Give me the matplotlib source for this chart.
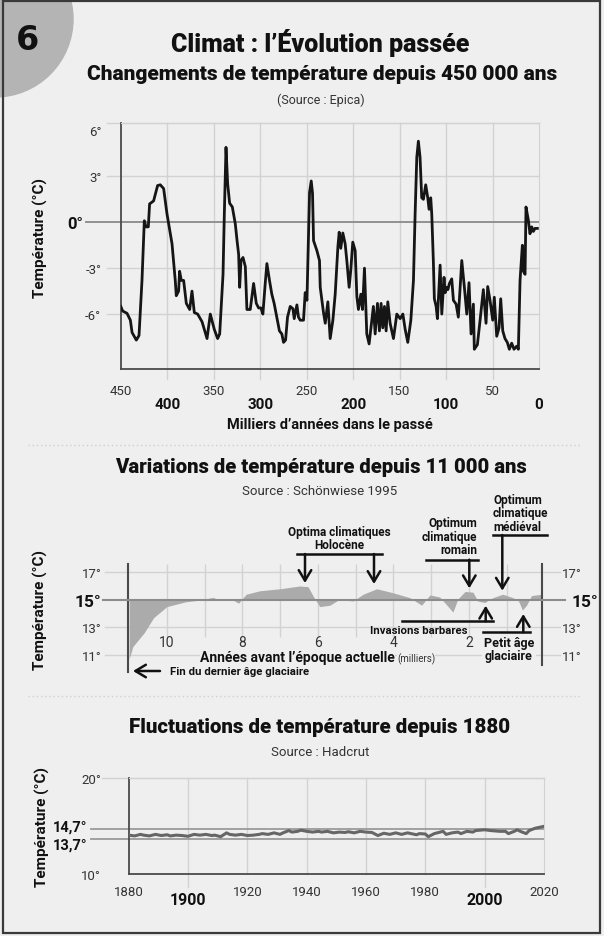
import matplotlib
matplotlib.use("Agg")
import matplotlib.pyplot as plt
from matplotlib import font_manager
from matplotlib.transforms import Affine2D, ScaledTranslation
from matplotlib.patches import Circle, Rectangle, FancyArrowPatch
from matplotlib.lines import Line2D

W, H = 604, 937
BG = '#efefef'
GRID = '#d2d2d2'
DARK = '#4a4a4a'
TXT = '#333333'

names = {f.name for f in font_manager.fontManager.ttflist}
NARROW = 'Liberation Sans Narrow' if 'Liberation Sans Narrow' in names else 'Roboto'
plt.rcParams['font.family'] = [NARROW, 'DejaVu Sans']

# --- EPICA, thousands of years before present / temperature anomaly (°C)
epica_kyr = [450, 448, 443.3, 439.7, 437.9, 433.3, 430.4, 427.2, 424.7, 422.9, 420.4, 419, 414.7,
             410.4, 407.5, 403.9, 400.3, 394.9, 391.4, 390.3, 387.8, 386.7, 384.9, 382.4, 379.5,
             375.9, 373.4, 370.9, 367.3, 362.6, 357.2, 353.7, 349.4, 345.8, 343.6, 340, 338.6,
             336.8, 335, 332.9, 330, 326.8, 324.9, 323.2, 322.1, 320.7, 318.5, 316, 314.3, 310.7,
             307.1, 304.2, 301.7, 299.2, 297.1, 294.6, 292.8, 290, 287.5, 285, 282.1, 279.3,
             276.7, 274.9, 272.7, 270.6, 267.7, 264.8, 263.4, 260.5, 258.8, 256.9, 253.4, 251.6,
             249.7, 246.9, 245.1, 243.7, 242.6, 239, 236.2, 235.4, 231.9, 230, 227.2, 224.7,
             221.8, 219.3, 216.4, 215, 213.3, 211.1, 208.6, 206.8, 204.3, 202.5, 200.4, 197.8,
             196, 194.3, 191.7, 189.9, 187.8, 185.3, 182.8, 179.9, 178.2, 176.3, 173.8, 171.7,
             169.9, 168.1, 166.3, 164.5, 162.7, 160.2, 156.6, 153, 149.4, 146.5, 144, 141.2,
             137.9, 135.1, 133.3, 131.5, 129.8, 128, 126.2, 124.4, 121.9, 119.7, 118.3, 116.5,
             115.4, 113.7, 112.6, 110.7, 109.3, 106.4, 104.6, 102.2, 101.0, 99.3, 98.0, 96.4,
             93.9, 92.1, 89.2, 86.8, 83.1, 80.3, 77.7, 75.3, 73.1, 70.6, 69.6, 66.3, 63.4, 59.9,
             57, 55.2, 52.7, 49.8, 48.1, 45.5, 43, 41.2, 39, 36.6, 34.1, 31.9, 29.4, 26.9, 24,
             22.2, 20.4, 17.9, 16.8, 15.0, 14, 11.5, 9.7, 7.8, 6.1, 4.3, 1.8]
epica_temp = [-5.5, -5.8, -5.95, -6.4, -7.2, -7.7, -7.4, -3.8, 0.1, -0.3, -0.3, 1.2, 1.4,
              2.4, 2.45, 2.2, 0.55, -1.4, -3.8, -4.8, -4.5, -3.2, -3.8, -3.8, -5.3,
              -5.7, -4.5, -5.9, -6.0, -6.5, -7.6, -6.0, -7.0, -7.6, -7.3, -3.4, 0.55,
              4.9, 2.5, 1.25, 1.0, -0.1, -1.2, -2.1, -4.25, -2.5, -2.3, -2.9, -5.7, -5.7,
              -4.0, -5.3, -5.6, -5.6, -6.0, -4.0, -2.7, -3.8, -4.7, -5.3, -6.2, -7.1,
              -7.3, -7.85, -7.7, -6.2, -5.5, -5.65, -6.3, -5.4, -6.2, -6.4, -6.4, -4.6,
              -5.1, 1.95, 2.7, 1.9, -1.2, -1.85, -2.5, -4.25, -5.9, -6.6, -5.2, -7.6,
              -6.4, -4.7, -1.6, -0.65, -1.7, -0.7, -1.4, -2.5, -4.25, -3.1, -1.3, -1.85,
              -4.85, -5.7, -4.7, -5.7, -3.0, -7.3, -7.95, -6.4, -5.5, -7.3, -5.3, -7.1,
              -5.3, -6.9, -5.5, -7.1, -5.2, -6.6, -7.6, -6.0, -6.3, -6.0, -7.0, -7.85,
              -6.4, -3.8, 0.55, 4.25, 5.3, 4.25, 1.6, 1.5, 2.45, 1.6, 0.85, 1.6,
              0.55, -2.5, -5.0, -5.5, -6.3, -2.8, -6.0, -3.6, -4.6, -4.25, -4.4, -4.0,
              -3.7, -5.1, -5.35, -6.2, -2.5, -4.25, -6.0, -3.95, -7.3, -5.35, -8.3, -8.0, -6.4, -4.4,
              -6.6, -4.2, -5.1, -6.4, -4.9, -7.45, -6.9, -5.0, -7.1, -7.6, -7.85, -8.3, -7.9, -8.3, -8.1,
              -8.3, -3.8, -1.5, -3.2, -3.4, 1.0, 0.15, -0.75, -0.3, -0.6, -0.4, -0.4]
epica_major = [400, 300, 200, 100, 0]
epica_minor = [450, 350, 250, 150, 50]
epica_yticks = [6, 3, 0, -3, -6]
epica_ylabels = ['6°', '3°', '0°', '-3°', '-6°']

# --- Holocene (Schönwiese 1995), thousands of years before present / °C
holo_kyr = [11.0, 10.9, 10.6, 10.35, 10.0, 9.5, 9.2, 8.77, 8.6, 8.33, 8.1, 7.9, 7.54, 7.0, 6.48,
            6.26, 6.13, 5.95, 5.68, 5.42, 5.07, 4.8, 4.44, 4.0, 3.56, 3.25, 3.03, 2.77, 2.42,
            2.29, 2.1, 1.89, 1.76, 1.58, 1.36, 1.1, 0.83, 0.68, 0.58, 0.47, 0.34, 0.07]
holo_temp = [10.7, 11.6, 12.6, 13.7, 14.5, 14.85, 14.95, 15.17, 14.93, 15.1, 14.75, 15.4, 15.65,
             15.8, 16.0, 15.95, 15.3, 14.5, 14.6, 15.05, 14.9, 15.4, 15.8, 15.5, 15.15, 14.6,
             15.35, 15.2, 14.1, 15.05, 15.6, 15.55, 14.9, 14.8, 15.15, 15.4, 15.15, 14.9, 14.25,
             14.6, 15.3, 15.4]
holo_ticks = [10, 8, 6, 4, 2]
holo_yticks = [17, 15, 13, 11]

# --- HadCRUT, year / °C
had_year = [1880, 1882, 1884, 1885, 1887, 1889, 1891, 1893, 1894, 1896, 1898, 1900, 1902, 1904,
            1906, 1908, 1909, 1911, 1913, 1914, 1916, 1918, 1920, 1922, 1924, 1925, 1927, 1929,
            1931, 1932, 1934, 1935, 1937, 1938, 1940, 1942, 1944, 1945, 1947, 1949, 1951, 1953,
            1954, 1956, 1958, 1960, 1962, 1964, 1966, 1968, 1970, 1972, 1974, 1977, 1978, 1980,
            1981, 1983, 1985, 1986, 1987, 1989, 1991, 1992, 1994, 1996, 1997, 2000, 2002, 2005,
            2007, 2008, 2010, 2011, 2012, 2014, 2015, 2017, 2020]
had_temp = [14.06, 13.98, 14.14, 14.06, 13.98, 14.14, 14.02, 14.10, 13.98, 14.06, 14.02, 13.94,
            14.14, 14.06, 14.14, 14.02, 14.06, 13.90, 14.30, 14.14, 14.06, 14.14, 14.02, 14.06,
            14.14, 14.22, 14.14, 14.30, 14.14, 14.30, 14.54, 14.38, 14.46, 14.58, 14.46, 14.38,
            14.46, 14.38, 14.46, 14.30, 14.38, 14.34, 14.42, 14.30, 14.46, 14.38, 14.34, 14.02,
            14.26, 14.14, 14.30, 14.14, 14.30, 14.10, 14.22, 14.18, 13.90, 14.22, 14.38, 14.46,
            14.14, 14.30, 14.38, 14.22, 14.46, 14.38, 14.54, 14.62, 14.54, 14.46, 14.46, 14.22,
            14.46, 14.62, 14.46, 14.22, 14.54, 14.78, 14.98]
had_major = [1900, 2000]
had_minor = [1880, 1920, 1940, 1960, 1980, 2020]
had_ref = [14.7, 13.7]
had_yticks = [20, 14.7, 13.7, 10]
had_ylabels = ['20°', '14,7°', '13,7°', '10°']

fig = plt.figure(figsize=(W / 100, H / 100), dpi=100, facecolor=BG)
# pixel coordinates measured from the top-left corner
PX = Affine2D().scale(1 / W, -1 / H).translate(0, 1) + fig.transFigure


def ptext(x, y, s, size, bold=False, **kw):
    kw.setdefault('ha', 'center')
    kw.setdefault('va', 'center')
    kw.setdefault('color', '#111111' if bold else TXT)
    kw.setdefault('fontweight', 'bold' if bold else 'normal')
    return fig.text(x, y, s, transform=PX, fontsize=size, **kw)


def pline(xs, ys, **kw):
    kw.setdefault('color', '#111111')
    kw.setdefault('lw', 1.8)
    fig.add_artist(Line2D(xs, ys, transform=PX, **kw))


def parrow(x0, y0, x1, y1):
    fig.add_artist(FancyArrowPatch((x0, y0), (x1, y1), transform=PX,
                                   arrowstyle='->,head_length=0.5,head_width=0.3',
                                   mutation_scale=15, lw=1.8, color='#111111',
                                   shrinkA=0, shrinkB=0))


def add_ax(l, t, r, b):
    ax = fig.add_axes([l / W, 1 - b / H, (r - l) / W, (b - t) / H])
    ax.set_facecolor('none')
    return ax


# frame, badge, separators
fig.add_artist(Circle((-5, 20), 78, transform=PX, color='#b4b4b4', zorder=0))
ptext(27, 41, '6', 24, bold=True, family='DejaVu Sans')
fig.add_artist(Rectangle((3, 2), 597, 932, transform=PX, fill=False, ec='#3a3a3a', lw=1.6, zorder=5))
pline([28, 580], [446, 446], color='#d0d0d0', lw=1, ls=(0, (1, 2)))
pline([28, 580], [697, 697], color='#d0d0d0', lw=1, ls=(0, (1, 2)))

# ---------------- panel 1 : EPICA
ptext(320, 43, 'Climat : l’Évolution passée', 18, bold=True, fontweight='black')
ptext(322, 74, 'Changements de température depuis 450 000 ans', 15, bold=True, fontweight='black')
ptext(321, 100, '(Source : Epica)', 9)

ax1 = add_ax(120.8, 124.3, 539, 370)
ax1.plot(epica_kyr, epica_temp, color='#151515', lw=2.0, solid_joinstyle='round', zorder=3)
ax1.set_xlim(450, 0)
ax1.set_ylim(-9.59, 6.47)
for s in ['left', 'bottom']:
    ax1.spines[s].set_color(DARK)
    ax1.spines[s].set_linewidth(1.3)
for s in ['top', 'right']:
    ax1.spines[s].set_color(GRID)
ax1.plot([-0.034, 1], [1, 1], transform=ax1.transAxes, color=GRID, lw=1, clip_on=False)
for v in [3, -3, -6]:
    ax1.axhline(v, xmin=-0.034, color=GRID, lw=1, clip_on=False, zorder=0)
ax1.axhline(0, xmin=-0.083, color='#8a8a8a', lw=1.3, clip_on=False, zorder=1)
for v in epica_major[:-1] + epica_minor[1:]:
    ax1.axvline(v, ymin=-0.04, color=GRID, lw=1, clip_on=False, zorder=0)
ax1.set_yticks(epica_yticks, epica_ylabels)
ax1.tick_params(axis='y', length=0, pad=14, labelsize=9.5, labelcolor=TXT)
for t, v in zip(ax1.yaxis.get_major_ticks(), epica_yticks):
    if v == 0:
        t.set_pad(27)
        t.label1.set_fontweight('bold')
        t.label1.set_fontsize(12)
        t.label1.set_color('#111111')
ax1.set_xticks(epica_major, [str(v) for v in epica_major])
ax1.set_xticks(epica_minor, [str(v) for v in epica_minor], minor=True)
ax1.tick_params(axis='x', which='both', length=0)
ax1.tick_params(axis='x', which='major', pad=20, labelsize=11, labelcolor='#111111')
ax1.tick_params(axis='x', which='minor', pad=11, labelsize=9.5, labelcolor=TXT)
for lab in ax1.get_xticklabels():
    lab.set_fontweight('bold')
ptext(330, 425, 'Milliers d’années dans le passé', 10.5, bold=True)
ptext(40, 238, 'Température (°C)', 11, bold=True, rotation=90)

# ---------------- panel 2 : Holocene
ptext(321, 468, 'Variations de température depuis 11 000 ans', 14.6, bold=True, fontweight='black')
ptext(320, 492, 'Source : Schönwiese 1995', 9.5)

ax2 = add_ax(128, 565, 542, 673.3)
ax2.set_xlim(11.03, 0.06)
ax2.set_ylim(9.72, 17.6)
ax2.fill_between(holo_kyr, holo_temp, 15, color='#ababab', lw=0, zorder=2)
ax2.axhline(15, xmin=-0.06, xmax=1.056, color='#8c8c8c', lw=1.5, clip_on=False, zorder=3)
for v in [17, 13, 11]:
    ax2.axhline(v, xmin=-0.056, xmax=1.043, color=GRID, lw=1, clip_on=False, zorder=0)
ax2.vlines(range(1, 11), 12.3, 17.6, color=GRID, lw=1, zorder=0)
ax2.spines['top'].set_visible(False)
ax2.spines['bottom'].set_visible(False)
for s in ['left', 'right']:
    ax2.spines[s].set_color(DARK)
    ax2.spines[s].set_linewidth(1.5)
ax2.spines['right'].set_bounds(10.27, 17.6)
ax2.set_xticks(holo_ticks, [str(v) for v in holo_ticks])
ax2.tick_params(axis='x', length=0, pad=-26.5, labelsize=10, labelcolor=TXT)
ax2.set_yticks(holo_yticks, [f'{v}°' for v in holo_yticks])
ax2.tick_params(axis='y', length=0, pad=19, labelsize=9.5, labelcolor=TXT)
ax2r = ax2.twinx()
ax2r.set_ylim(ax2.get_ylim())
for s in ax2r.spines.values():
    s.set_visible(False)
ax2r.set_yticks(holo_yticks, [f'{v}°' for v in holo_yticks])
ax2r.tick_params(axis='y', length=0, pad=14, labelsize=9.5, labelcolor=TXT)
for axis_, side in [(ax2, 'label1'), (ax2r, 'label2')]:
    for t, v in zip(axis_.yaxis.get_major_ticks(), holo_yticks):
        if v == 15:
            lab = getattr(t, side)
            lab.set_fontweight('bold')
            lab.set_fontsize(12.5)
            lab.set_color('#111111')
            if side == 'label2':
                t.set_pad(21)
ptext(395, 662.5, 'Années avant l’époque actuelle', 10, bold=True, ha='right', va='baseline',
      bbox=dict(fc=BG, ec='none', pad=0))
ptext(397, 662.5, '(milliers)', 7, ha='left', va='baseline', bbox=dict(fc=BG, ec='none', pad=0))
ptext(40.5, 610, 'Température (°C)', 11, bold=True, rotation=90)

# annotations
ptext(339.7, 539, 'Optima climatiques\nHolocène', 8.5, bold=True, linespacing=1.05)
pline([296.7, 381.7], [555, 555])
parrow(305, 555, 305, 584)
parrow(374, 555, 374, 585)
ptext(477.3, 537.5, 'Optimum\nclimatique\nromain', 8.5, bold=True, ha='right',
      multialignment='right', linespacing=1.05)
pline([426, 477.7], [560.7, 560.7])
parrow(469.3, 560.7, 469.3, 589.3)
ptext(493, 514, 'Optimum\nclimatique\nmédiéval', 8.5, bold=True, ha='left',
      multialignment='left', linespacing=1.05)
pline([493.3, 546.7], [536, 536])
parrow(502.3, 536, 502.3, 591.7)
ptext(468, 631, 'Invasions barbares', 8.2, bold=True, ha='right')
pline([401.7, 492.7], [622.3, 622.3])
parrow(485.7, 622.3, 485.7, 606.7)
ptext(509, 650, 'Petit âge\nglaciaire', 9, bold=True, linespacing=1.05,
      bbox=dict(fc=BG, ec='none', pad=1))
pline([483.3, 530], [633.3, 633.3])
parrow(523.3, 633.3, 523.3, 615)
parrow(160, 672, 133, 672)
ptext(170, 672, 'Fin du dernier âge glaciaire', 8.2, bold=True, ha='left')

# ---------------- panel 3 : HadCRUT
ptext(320, 728, 'Fluctuations de température depuis 1880', 14.8, bold=True, fontweight='black')
ptext(320, 753, 'Source : Hadcrut', 9.5)

ax3 = add_ax(128.7, 779.3, 544, 875)
ax3.set_xlim(1880, 2020)
ax3.set_ylim(10, 20)
ax3.plot(had_year, had_temp, color='#666666', lw=2.2, zorder=3)
for v in had_ref:
    ax3.axhline(v, xmin=-0.091, color='#9a9a9a', lw=1.3, clip_on=False, zorder=1)
for s in ['left', 'bottom']:
    ax3.spines[s].set_color(DARK)
    ax3.spines[s].set_linewidth(1.3)
for s in ['top', 'right']:
    ax3.spines[s].set_color(GRID)
ax3.plot([-0.065, 1], [1, 1], transform=ax3.transAxes, color=GRID, lw=1, clip_on=False)
for v in range(1900, 2020, 20):
    ymin = -0.136 if v in had_major else 0
    ax3.axvline(v, ymin=ymin, color=GRID, lw=1, clip_on=False, zorder=0)
ax3.set_yticks(had_yticks, had_ylabels)
ax3.tick_params(axis='y', length=0, pad=20, labelsize=9.5, labelcolor=TXT)
for t, v in zip(ax3.yaxis.get_major_ticks(), had_yticks):
    if v in had_ref:
        t.set_pad(30)
        t.label1.set_fontweight('bold')
        t.label1.set_fontsize(10.5)
        t.label1.set_color('#111111')
        dy = 4 if v == 14.7 else -4
        t.label1.set_transform(t.label1.get_transform() +
                               ScaledTranslation(0, dy / 100, fig.dpi_scale_trans))
ax3.set_xticks(had_major, [str(v) for v in had_major])
ax3.set_xticks(had_minor, [str(v) for v in had_minor], minor=True)
ax3.tick_params(axis='x', which='both', length=0)
ax3.tick_params(axis='x', which='major', pad=13, labelsize=11.5, labelcolor='#111111')
ax3.tick_params(axis='x', which='minor', pad=8, labelsize=9.5, labelcolor=TXT)
for lab in ax3.get_xticklabels():
    lab.set_fontweight('bold')
ptext(42, 827, 'Température (°C)', 11, bold=True, rotation=90)

fig.savefig('out.png', dpi=100, facecolor=BG)
